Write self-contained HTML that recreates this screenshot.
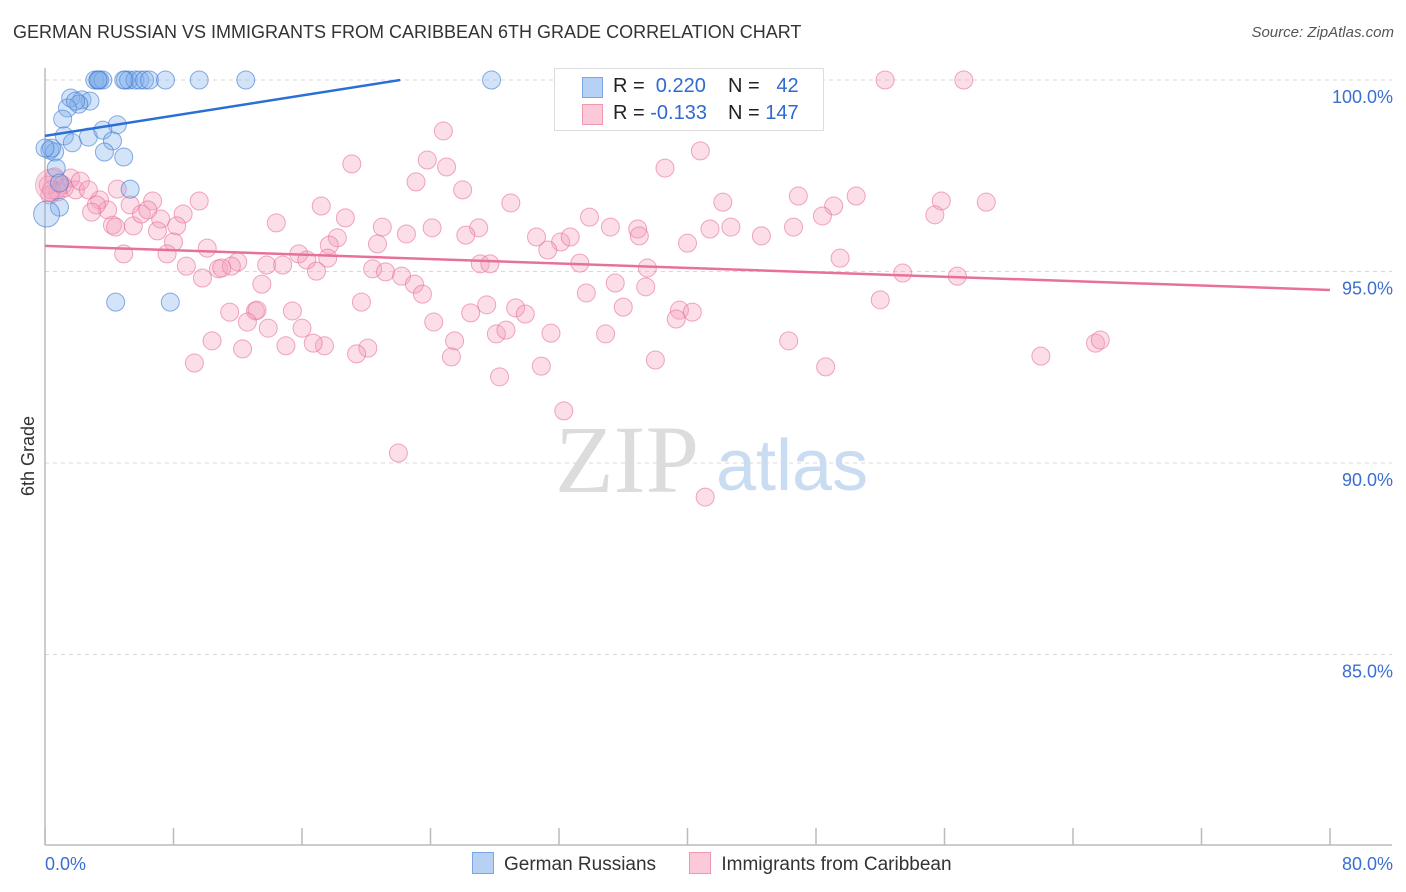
<!DOCTYPE html>
<html><head><meta charset="utf-8">
<style>
body{margin:0;background:#fff;font-family:"Liberation Sans",sans-serif;}
#wrap{position:relative;width:1406px;height:892px;overflow:hidden;}
.t{position:absolute;white-space:nowrap;}
</style></head>
<body>
<div id="wrap">
<div class="t" style="left:13px;top:22px;font-size:18px;color:#333;">GERMAN RUSSIAN VS IMMIGRANTS FROM CARIBBEAN 6TH GRADE CORRELATION CHART</div>
<div class="t" style="right:12px;top:24px;font-size:15px;color:#555;font-style:italic;">Source: ZipAtlas.com</div>
<svg id="plot" width="1406" height="892" style="position:absolute;left:0;top:0"></svg>
</div>
<script>
const xTickCount = 10;
const yTicks = [100, 95, 90, 85];
const yTickLabels = ["100.0%", "95.0%", "90.0%", "85.0%"];
const xAxisLabels = ["0.0%", "80.0%"];
const blueX = [3.1,3.3,3.4,3.6,5.0,5.2,5.6,5.9,6.2,6.5,7.5,9.6,12.5,27.8,1.6,2.3,2.8,2.1,1.4,1.1,1.2,2.7,4.5,3.6,1.7,4.2,0.3,0.6,3.7,4.9,0.7,0.9,5.3,0.9,0.1,4.4,7.8,0.4,1.9,0.0,3.3,4.9];
const blueY = [100,100,100,100,100,100,100,100,100,100,100,100,100,100,99.53,99.48,99.45,99.37,99.27,98.98,98.54,98.51,98.83,98.69,98.36,98.41,98.17,98.12,98.12,97.99,97.7,97.31,97.15,96.68,96.5,94.2,94.2,98.22,99.45,98.22,100,100];
const pinkX = [52.3,57.2,24.8,40.8,23.8,19.1,25.0,38.6,23.1,26.0,46.9,50.5,4.5,3.4,5.3,6.7,9.6,17.2,29.0,42.2,49.1,55.8,58.6,14.4,18.7,21.0,24.1,27.0,33.9,35.2,36.9,37.0,41.4,42.7,44.6,46.6,48.4,55.4,8.6,7.2,5.5,4.2,8.2,7.0,18.2,17.7,20.7,22.5,26.2,30.6,32.1,32.7,31.3,40.0,10.1,8.0,4.9,7.6,15.8,16.3,17.6,8.8,10.8,12.0,11.6,13.8,14.8,16.9,20.4,21.2,22.2,23.0,23.5,27.1,27.7,33.3,37.5,53.4,56.8,49.5,9.8,11.0,13.5,19.7,27.5,29.3,29.9,33.7,35.5,36.0,37.4,39.5,40.3,52.0,11.5,13.1,13.2,15.4,26.5,24.2,12.6,13.9,16.0,28.1,28.7,31.5,34.9,39.3,10.4,15.0,17.4,16.7,20.1,25.5,12.3,19.4,25.3,9.3,28.3,30.9,38.0,46.3,48.6,62.0,65.4,65.7,32.3,22.0,41.1,0.6,1.1,1.6,0.8,1.2,1.9,2.2,2.7,0.2,3.9,3.2,2.9,6.0,4.4,6.4,0.3,0.4];
const pinkY = [100,100,98.67,98.15,97.91,97.81,97.73,97.70,97.34,97.13,96.97,96.97,97.15,96.87,96.74,96.84,96.84,96.71,96.79,96.81,96.71,96.84,96.81,96.27,96.40,96.16,96.14,96.14,96.42,96.16,96.11,95.93,96.11,96.16,95.93,96.16,96.45,96.48,96.50,96.37,96.19,96.21,96.19,96.06,95.88,95.69,95.72,95.98,95.95,95.90,95.77,95.90,95.56,95.74,95.61,95.77,95.46,95.46,95.46,95.30,95.35,95.14,95.07,95.25,95.14,95.17,95.17,95.01,95.07,94.99,94.88,94.67,94.41,95.20,95.20,95.22,95.09,94.96,94.88,95.35,94.83,95.09,94.67,94.20,94.13,94.05,93.89,94.44,94.70,94.07,94.60,93.99,93.94,94.26,93.94,93.97,93.99,93.97,93.92,93.68,93.68,93.52,93.52,93.37,93.47,93.39,93.37,93.76,93.19,93.06,93.06,93.13,93.00,93.19,92.98,92.85,92.77,92.61,92.25,92.53,92.69,93.19,92.51,92.79,93.13,93.21,91.36,90.26,89.11,97.47,97.26,97.44,97.08,97.18,97.13,97.36,97.13,97.26,96.61,96.74,96.55,96.50,96.16,96.61,97.00,97.13];
const blueTrend = [98.54, 0.066];   // intercept, slope per x%
const pinkTrend = [95.67, -0.0144];

const X0=45,X1=1330,XMAX=80;
const sx=v=>X0+v/XMAX*(X1-X0);
const sy=v=>80+(100-v)*38.3;
const svg=document.getElementById('plot');
const NS='http://www.w3.org/2000/svg';
function mk(tag,attrs){const e=document.createElementNS(NS,tag);for(const k in attrs)e.setAttribute(k,attrs[k]);svg.appendChild(e);return e;}

// gridlines + y labels
yTicks.forEach((v,i)=>{
  const g=mk('line',{x1:X0,x2:1392,y1:sy(v),y2:sy(v),stroke:'#d8d8d8','stroke-dasharray':'4,4','stroke-width':1});
  
  
  const t=mk('text',{x:1393,y:sy(v)+23,'text-anchor':'end','font-size':18,fill:'#3a6fd1','font-family':'Liberation Sans, sans-serif'});
  t.textContent=yTickLabels[i];
  
  
});
// axes
const ya=mk('line',{x1:X0,x2:X0,y1:68,y2:845,stroke:'#bbb','stroke-width':1.5});


const xa=mk('line',{x1:X0,x2:1392,y1:845,y2:845,stroke:'#bbb','stroke-width':1.5});


for(let i=0;i<=xTickCount;i++){
  const v=i*XMAX/xTickCount;
  const tk=mk('line',{x1:sx(v),x2:sx(v),y1:828,y2:845,stroke:'#bbb','stroke-width':1.5});
  
  
}
const xl0=mk('text',{x:45,y:870,'font-size':18,fill:'#3a6fd1','font-family':'Liberation Sans, sans-serif'});
xl0.textContent=xAxisLabels[0];


const xl1=mk('text',{x:1393,y:870,'text-anchor':'end','font-size':18,fill:'#3a6fd1','font-family':'Liberation Sans, sans-serif'});
xl1.textContent=xAxisLabels[1];


const yt=mk('text',{x:34,y:456,'text-anchor':'middle','font-size':18,fill:'#333',transform:'rotate(-90 34 456)','font-family':'Liberation Sans, sans-serif'});
yt.textContent='6th Grade';


// watermark
const wm=mk('text',{x:555,y:492,'font-size':96,fill:'#dcdcdc','font-family':'Liberation Serif, serif'});
wm.textContent='ZIP';


const wm2=mk('text',{x:716,y:490,'font-size':72,fill:'#c9dcf2','font-family':'Liberation Sans, sans-serif'});
wm2.textContent='atlas';



// points
pinkX.forEach((x,i)=>{
  const c=mk('circle',{cx:sx(x),cy:sy(pinkY[i]),r:9,fill:'rgba(244,160,188,0.35)',stroke:'rgba(232,110,150,0.6)','stroke-width':1});
  
  
});
const bp=mk('circle',{cx:sx(0.4),cy:sy(97.26),r:16,fill:'rgba(244,160,188,0.4)',stroke:'rgba(232,110,150,0.4)'});


blueX.forEach((x,i)=>{
  const c=mk('circle',{cx:sx(x),cy:sy(blueY[i]),r:(i==34?13:9),fill:'rgba(130,175,235,0.35)',stroke:'rgba(60,120,210,0.6)','stroke-width':1});
  
  
});
// trend lines
const bxEnd=(100-blueTrend[0])/blueTrend[1];
const bl=mk('line',{x1:sx(0),y1:sy(blueTrend[0]),x2:sx(bxEnd),y2:sy(100),stroke:'#2a6fd6','stroke-width':2.5});


const pl=mk('line',{x1:sx(0),y1:sy(pinkTrend[0]),x2:sx(XMAX),y2:sy(pinkTrend[0]+pinkTrend[1]*XMAX),stroke:'#e8719a','stroke-width':2.5});


</script>
<div class="t" style="left:554px;top:68px;width:268px;height:61px;border:1px solid #ddd;background:#fff;font-size:20px;color:#222;">
  <div style="position:absolute;left:27px;top:8px;width:19px;height:19px;background:#b7d1f4;border:1px solid #7aa6e6;"></div>
  <div style="position:absolute;left:58px;top:6px;">R = <span style="color:#2f6ad0">&nbsp;0.220</span></div>
  <div style="position:absolute;left:173px;top:6px;">N = <span style="color:#2f6ad0">&nbsp;&nbsp;42</span></div>
  <div style="position:absolute;left:27px;top:35px;width:19px;height:19px;background:#fbc9d8;border:1px solid #ee98b4;"></div>
  <div style="position:absolute;left:58px;top:33px;">R = <span style="color:#2f6ad0">-0.133</span></div>
  <div style="position:absolute;left:173px;top:33px;">N = <span style="color:#2f6ad0">147</span></div>
</div>
<div class="t" style="left:472px;top:852px;font-size:19px;color:#333;">
  <span style="display:inline-block;"><span style="display:inline-block;width:20px;height:20px;background:#b7d1f4;border:1px solid #7aa6e6;vertical-align:-4px;margin-right:10px;"></span>German Russians</span>
  <span style="display:inline-block;margin-left:28px;"><span style="display:inline-block;width:20px;height:20px;background:#fbc9d8;border:1px solid #ee98b4;vertical-align:-4px;margin-right:10px;"></span>Immigrants from Caribbean</span>
</div>
</body></html>
